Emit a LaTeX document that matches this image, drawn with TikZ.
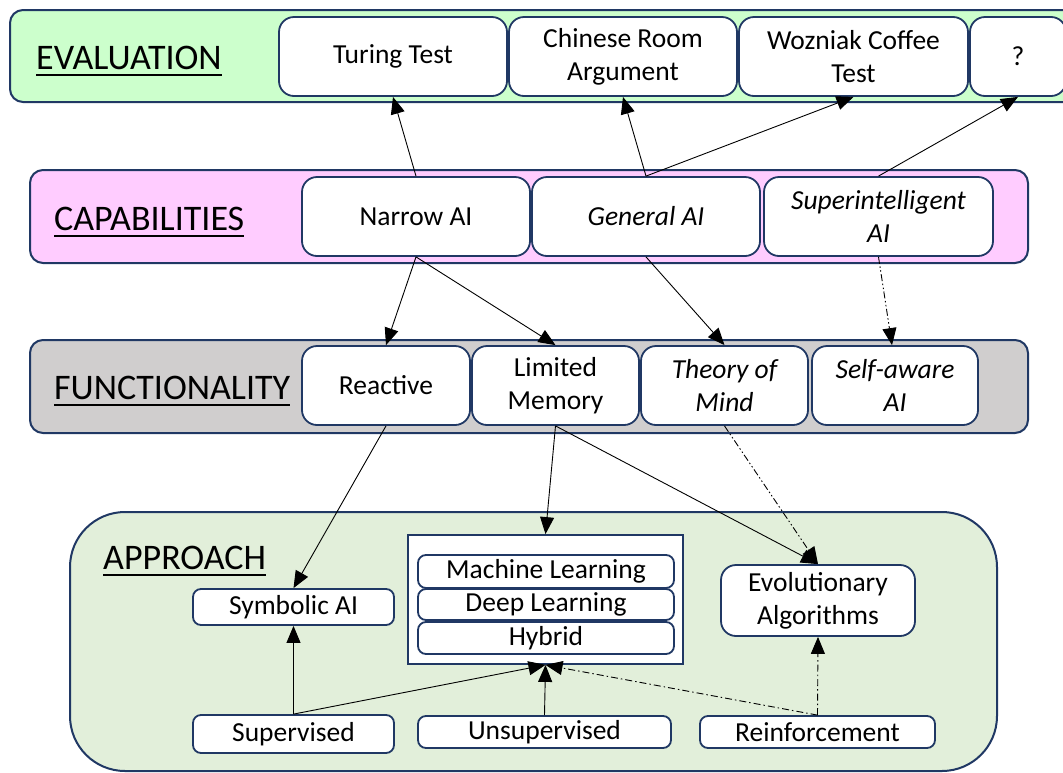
\documentclass[tikz,border=0pt]{standalone}
\usepackage{fontspec}
\setmainfont{Carlito}
\usetikzlibrary{arrows.meta}

\definecolor{navy}{HTML}{203864}
\definecolor{evalfill}{HTML}{CCFFCC}
\definecolor{capfill}{HTML}{FFCCFF}
\definecolor{funcfill}{HTML}{D0CECE}
\definecolor{appfill}{HTML}{E2EFDA}

\newcommand\boxfont{\fontsize{27.5}{33}\selectfont}
\newcommand\bandfont{\fontsize{36}{40}\selectfont}

\tikzset{
  band/.style={draw=navy, line width=2pt, rounded corners=13pt},
  card/.style={draw=navy, line width=1.8pt, fill=white, rounded corners=15pt,
    inner sep=0pt, align=center, font=\boxfont},
  chip/.style={card, rounded corners=8pt},
  bandlabel/.style={inner sep=0pt, anchor=base west, font=\bandfont},
  uline/.style={line width=1.8pt, black},
  conn/.style={-{Triangle[length=17pt,width=14pt]}, line width=0.9pt, black},
  dashdot/.style={dash pattern=on 7pt off 3pt on 1.5pt off 3pt},
  dashdotdot/.style={dash pattern=on 7pt off 2.5pt on 1.5pt off 2.5pt on 1.5pt off 2.5pt},
}

\begin{document}
\begin{tikzpicture}[x=1pt,y=-1pt]
\clip (0,0) rectangle (1063,772);
\fill[white] (0,0) rectangle (1063,772);

% ---- bands ----
\draw[band, fill=evalfill] (10,10) rectangle (1090,102);
\draw[band, fill=capfill]  (30,170) rectangle (1028,263);
\draw[band, fill=funcfill] (30,340) rectangle (1028,433);
\draw[band, fill=appfill, rounded corners=55pt] (70,512) rectangle (997,771);

% ---- band titles ----
\node[bandlabel] (tEval) at (36,69)  {EVALUATION};
\node[bandlabel] (tCap)  at (54,230) {CAPABILITIES};
\node[bandlabel] (tFunc) at (54,399) {FUNCTIONALITY};
\node[bandlabel] (tApp)  at (103,569) {APPROACH};
\foreach \t in {tEval,tCap,tFunc,tApp}
  \draw[uline] ([yshift=-6pt]\t.base west) -- ([yshift=-6pt]\t.base east);

% ---- evaluation ----
\node[card, minimum width=228pt, minimum height=79pt] (turing)  at (393,56.5)  {Turing Test};
\node[card, minimum width=228pt, minimum height=79pt] (chinese) at (623,56.5)  {Chinese Room\\Argument};
\node[card, minimum width=229pt, minimum height=79pt] (woz)     at (853.5,56.5){Wozniak Coffee\\Test};
\node[card, minimum width=96pt,  minimum height=79pt] (unknown) at (1018,56.5) {?};

% ---- capabilities ----
\node[card, minimum width=228pt, minimum height=79pt] (narrow)  at (416,216.5)   {Narrow AI};
\node[card, minimum width=228pt, minimum height=79pt] (general) at (646,216.5)   {\itshape General AI};
\node[card, minimum width=229pt, minimum height=79pt] (super)   at (878.5,216.5) {\itshape Superintelligent\\\itshape AI};

% ---- functionality ----
\node[card, minimum width=168pt, minimum height=79pt] (reactive) at (386,385.5)   {Reactive};
\node[card, minimum width=167pt, minimum height=79pt] (limited)  at (555.5,385.5) {Limited\\Memory};
\node[card, minimum width=167pt, minimum height=79pt] (theory)   at (724.5,385.5) {\itshape Theory of\\\itshape Mind};
\node[card, minimum width=166pt, minimum height=79pt] (selfaware) at (895,385.5)  {\itshape Self-aware\\\itshape AI};

% ---- approach ----
\node[draw=navy, line width=1.8pt, fill=white, minimum width=275pt, minimum height=129pt,
      inner sep=0pt] (learn) at (545.5,599.5) {};
\node[chip, minimum width=256pt, minimum height=33pt] (ml)     at (546,571.5) {Machine Learning};
\node[chip, minimum width=256pt, minimum height=31pt] (dl)     at (546,604.5) {Deep Learning};
\node[chip, minimum width=256pt, minimum height=32pt] (hybrid) at (546,638)   {Hybrid};

\node[chip, minimum width=201pt, minimum height=36pt] (symbolic) at (293.5,607) {Symbolic AI};
\node[card, minimum width=194pt, minimum height=71pt] (evol)     at (818,600.5) {Evolutionary\\Algorithms};
\node[chip, minimum width=201pt, minimum height=38pt] (superv)   at (293.5,734) {Supervised};
\node[chip, minimum width=253pt, minimum height=32pt] (unsuperv) at (544.5,732) {Unsupervised};
\node[chip, minimum width=235pt, minimum height=32pt] (reinf)    at (817.5,732) {Reinforcement};

% ---- connectors ----
\draw[conn] (narrow.north)  -- (turing.south);
\draw[conn] (general.north) -- (chinese.south);
\draw[conn] (general.north) -- (woz.south);
\draw[conn] (super.north)   -- (unknown.south);

\draw[conn] (narrow.south)  -- (reactive.north);
\draw[conn] (narrow.south)  -- (limited.north);
\draw[conn] (general.south) -- (theory.north);
\draw[conn, dashdotdot] (super.south) -- ([xshift=-3pt]selfaware.north);

\draw[conn] (reactive.south) -- (symbolic.north);
\draw[conn] (limited.south)  -- (learn.north);
\draw[conn] (limited.south)  -- (evol.north);
\draw[conn, dashdotdot] (theory.south) -- (evol.north);

\draw[conn] (superv.north)   -- (symbolic.south);
\draw[conn] (superv.north)   -- (learn.south);
\draw[conn] (unsuperv.north) -- (learn.south);
\draw[conn, dashdot] (reinf.north) -- (learn.south);
\draw[conn, dashdot] (reinf.north) -- (evol.south);
\end{tikzpicture}
\end{document}
